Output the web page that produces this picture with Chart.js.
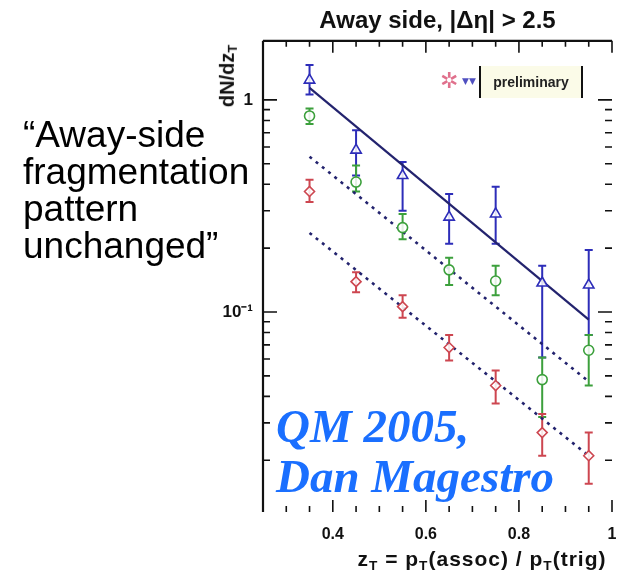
<!DOCTYPE html>
<html>
<head>
<meta charset="utf-8">
<script src="https://cdn.jsdelivr.net/npm/chart.js@4.4.1/dist/chart.umd.min.js"></script>
<style>
  body { margin: 0; background: #fff; }
  #wrap { position: relative; width: 625px; height: 577px; overflow: hidden; }
  #c { position: absolute; left: 0; top: 0; }
  #quote {
    position: absolute; left: 23px; top: 116px;
    font: 37px/37px "Liberation Sans", Arial, sans-serif; color: #000;
  }
  #credit {
    position: absolute; left: 276px; top: 401px;
    font: italic bold 47px/50px "Liberation Serif", "Times New Roman", serif;
    color: #1a6fff; white-space: nowrap;
  }
  #ytitle {
    position: absolute; left: 228px; top: 76px; white-space: nowrap;
    transform: translate(-50%, -50%) rotate(-90deg);
    font: bold 20px "Liberation Sans", Arial, sans-serif; color: #111;
  }
  #xtitle {
    position: absolute; left: 482px; top: 560px; white-space: nowrap;
    transform: translate(-50%, -50%);
    font: bold 21px "Liberation Sans", Arial, sans-serif; color: #111;
    letter-spacing: 1px;
  }
  sub { font-size: 65%; vertical-align: -0.25em; }
  #legend {
    position: absolute; left: 479px; top: 66px; width: 100px; height: 32px;
    border-left: 2px solid #111; border-right: 2px solid #111;
    background: #fbfbe8; text-align: center;
    font: bold 14px/32px "Liberation Sans", Arial, sans-serif; color: #222;
  }
  #star {
    position: absolute; left: 440px; top: 66px;
    font: 22px/30px "DejaVu Sans", sans-serif; color: #e0708c;
  }
  #tri {
    position: absolute; left: 462px; top: 73px;
    font: 9px/16px "DejaVu Sans", sans-serif; color: #5050c0;
  }
</style>
</head>
<body>
<div id="wrap">
  <canvas id="c" width="625" height="577"></canvas>
  <div id="quote">“Away-side<br>fragmentation<br>pattern<br>unchanged”</div>
  <div id="ytitle">dN/dz<sub>T</sub></div>
  <div id="xtitle">z<sub>T</sub> = p<sub>T</sub>(assoc) / p<sub>T</sub>(trig)</div>
  <div id="star">✲</div>
  <div id="tri">▼▼</div>
  <div id="legend">preliminary</div>
  <div id="credit">QM 2005,<br>Dan Magestro</div>
</div>
<script>
// z_T bins
const zBins = [0.35, 0.45, 0.55, 0.65, 0.75, 0.85, 0.95];

// blue triangles
const blueVals = [1.24, 0.58, 0.44, 0.28, 0.29, 0.137, 0.134];
const blueLo   = [1.06, 0.44, 0.30, 0.21, 0.21, 0.061, 0.078];
const blueHi   = [1.46, 0.72, 0.51, 0.36, 0.39, 0.165, 0.196];

// green circles
const greenVals = [0.84, 0.41, 0.25, 0.158, 0.14, 0.048, 0.066];
const greenLo   = [0.77, 0.37, 0.22, 0.134, 0.12, 0.032, 0.045];
const greenHi   = [0.91, 0.49, 0.29, 0.18, 0.165, 0.061, 0.078];

// red diamonds
const redVals = [0.37, 0.139, 0.106, 0.068, 0.045, 0.027, 0.021];
const redLo   = [0.33, 0.124, 0.094, 0.059, 0.037, 0.021, 0.0155];
const redHi   = [0.42, 0.154, 0.12, 0.078, 0.053, 0.033, 0.027];

// exponential fits (end points)
const fitZ = [0.35, 0.95];
const blueFit = [1.14, 0.092];
const greenFit = [0.54, 0.047];
const redFit = [0.236, 0.021];

// axes
const xMin = 0.25, xMax = 1.0;
const yMin = 0.0114, yMax = 1.9;
const xLabelVals = [0.4, 0.6, 0.8, 1.0];
const xLabelText = ["0.4", "0.6", "0.8", "1"];
const yLabelVals = [1, 0.1];
const yLabelText = ["1", "10⁻¹"];

const blue = "rgb(45,45,185)";
const green = "rgb(60,160,60)";
const red = "rgb(205,70,80)";
const navy = "rgb(35,35,110)";
const font = "'Liberation Sans', Arial, sans-serif";

function pts(xs, ys) {
  return xs.map((x, i) => ({ x: x, y: ys[i] }));
}

// error bars drawn from lo/hi arrays
const errorBars = {
  id: "errorBars",
  beforeDatasetsDraw(chart) {
    const ctx = chart.ctx, x = chart.scales.x, y = chart.scales.y;
    ctx.save();
    chart.data.datasets.forEach(ds => {
      if (!ds.err) return;
      ctx.strokeStyle = ds.borderColor;
      ctx.lineWidth = 2;
      ds.data.forEach((p, i) => {
        const px = x.getPixelForValue(p.x);
        const top = y.getPixelForValue(ds.err.hi[i]);
        const bot = y.getPixelForValue(ds.err.lo[i]);
        ctx.beginPath();
        ctx.moveTo(px, top); ctx.lineTo(px, bot);
        ctx.moveTo(px - 4, top); ctx.lineTo(px + 4, top);
        ctx.moveTo(px - 4, bot); ctx.lineTo(px + 4, bot);
        ctx.stroke();
      });
    });
    ctx.restore();
  }
};

// frame (left + top) and inward ticks on every side
const frameTicks = {
  id: "frameTicks",
  afterDraw(chart) {
    const ctx = chart.ctx, a = chart.chartArea, x = chart.scales.x, y = chart.scales.y;
    const seg = (x1, y1, x2, y2) => { ctx.moveTo(x1, y1); ctx.lineTo(x2, y2); };
    ctx.save();
    ctx.strokeStyle = "#111";
    ctx.lineWidth = 2.2;
    ctx.beginPath();
    seg(a.left, a.bottom, a.left, a.top);
    seg(a.left, a.top, a.right, a.top);
    ctx.stroke();

    ctx.lineWidth = 1.6;
    ctx.beginPath();
    for (let d = -2; d <= 0; d++) {
      for (let m = 1; m <= 9; m++) {
        const v = m * Math.pow(10, d);
        if (v <= yMin || v >= yMax) continue;
        const py = y.getPixelForValue(v);
        const len = m === 1 ? 14 : 7;
        seg(a.left, py, a.left + len, py);
        seg(a.right, py, a.right - len, py);
      }
    }
    for (let i = 1; i <= 15; i++) {
      const v = xMin + i * 0.05;
      const px = x.getPixelForValue(v);
      const major = Math.abs(v * 5 - Math.round(v * 5)) < 1e-6;
      const len = major ? 12 : 6;
      seg(px, a.bottom, px, a.bottom - len);
      seg(px, a.top, px, a.top + len);
    }
    ctx.stroke();
    ctx.restore();
  }
};

new Chart(document.getElementById("c"), {
  type: "scatter",
  data: {
    datasets: [
      {
        data: pts(zBins, blueVals), err: { lo: blueLo, hi: blueHi },
        borderColor: blue, backgroundColor: "rgba(255,255,255,0.85)",
        pointStyle: "triangle", pointRadius: 6, borderWidth: 1.6
      },
      {
        data: pts(zBins, greenVals), err: { lo: greenLo, hi: greenHi },
        borderColor: green, backgroundColor: "rgba(255,255,255,0.85)",
        pointStyle: "circle", pointRadius: 5, borderWidth: 1.6
      },
      {
        data: pts(zBins, redVals), err: { lo: redLo, hi: redHi },
        borderColor: red, backgroundColor: "rgba(255,255,255,0.85)",
        pointStyle: "rectRot", pointRadius: 5, borderWidth: 1.6
      },
      {
        data: pts(fitZ, blueFit), showLine: true, pointRadius: 0,
        borderColor: navy, borderWidth: 2.2
      },
      {
        data: pts(fitZ, greenFit), showLine: true, pointRadius: 0,
        borderColor: navy, borderWidth: 2.6, borderDash: [3, 5]
      },
      {
        data: pts(fitZ, redFit), showLine: true, pointRadius: 0,
        borderColor: navy, borderWidth: 2.6, borderDash: [3, 5]
      }
    ]
  },
  options: {
    responsive: false,
    animation: false,
    devicePixelRatio: 1,
    layout: { autoPadding: false, padding: { left: 213, right: 13, top: 0, bottom: 0 } },
    plugins: {
      legend: { display: false },
      tooltip: { enabled: false },
      title: {
        display: true, fullSize: false,
        text: "Away side, |Δη| > 2.5",
        color: "#111",
        font: { family: font, size: 24, weight: "bold" },
        padding: { top: 7, bottom: 5 }
      }
    },
    scales: {
      x: {
        type: "linear", min: xMin, max: xMax,
        grid: { display: false, drawTicks: false },
        border: { display: false },
        afterFit(s) { s.height = 65; s.paddingLeft = 0; s.paddingRight = 0; },
        ticks: {
          stepSize: 0.05, autoSkip: false, maxRotation: 0, padding: 13,
          color: "#111", font: { family: font, size: 16, weight: "bold" },
          callback(v) {
            const i = xLabelVals.findIndex(t => Math.abs(t - v) < 1e-6);
            return i < 0 ? "" : xLabelText[i];
          }
        }
      },
      y: {
        type: "logarithmic", min: yMin, max: yMax,
        grid: { display: false, drawTicks: false },
        border: { display: false },
        afterFit(s) { s.width = 50; s.paddingTop = 0; s.paddingBottom = 0; },
        ticks: {
          autoSkip: false, padding: 10,
          color: "#111", font: { family: font, size: 17, weight: "bold" },
          callback(v) {
            const i = yLabelVals.findIndex(t => Math.abs(t - v) < 1e-9);
            return i < 0 ? "" : yLabelText[i];
          }
        }
      }
    }
  },
  plugins: [errorBars, frameTicks]
});
</script>
</body>
</html>
